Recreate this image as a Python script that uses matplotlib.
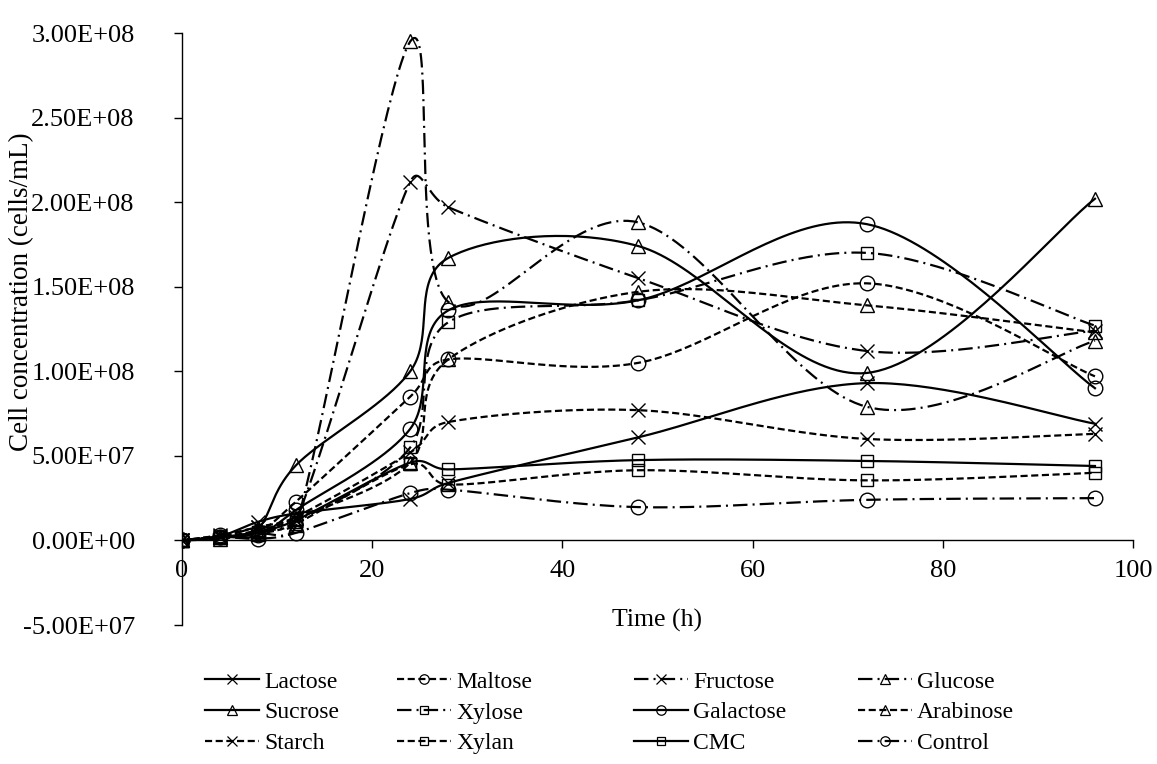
import numpy as np
import matplotlib
matplotlib.use("Agg")
import matplotlib.pyplot as plt
from matplotlib.lines import Line2D
from matplotlib.ticker import FuncFormatter, MultipleLocator

plt.rcParams['font.family'] = ['Liberation Serif', 'DejaVu Serif']
plt.rcParams['font.size'] = 16

# Sampling times (h)
time_h = [0, 4, 8, 12, 24, 28, 48, 72, 96]

# Cell concentration (cells/mL) per carbon source
lactose   = [0, 0.25e7, 1.1e7, 1.6e7, 2.45e7, 3.4e7, 6.1e7, 9.3e7, 6.9e7]
maltose   = [0, 0.3e7, 0.5e7, 2.3e7, 8.5e7, 1.07e8, 1.05e8, 1.52e8, 0.97e8]
fructose  = [0, 0.2e7, 0.8e7, 1.2e7, 2.12e8, 1.97e8, 1.55e8, 1.12e8, 1.24e8]
glucose   = [0, 0.1e7, 0.4e7, 0.9e7, 2.95e8, 1.41e8, 1.88e8, 0.79e8, 1.18e8]
sucrose   = [0, 0.2e7, 0.7e7, 4.45e7, 1.0e8, 1.67e8, 1.74e8, 0.99e8, 2.02e8]
xylose    = [0, 0.2e7, 0.5e7, 1.1e7, 5.5e7, 1.29e8, 1.42e8, 1.70e8, 1.27e8]
galactose = [0, 0.2e7, 0.3e7, 1.8e7, 6.6e7, 1.36e8, 1.42e8, 1.87e8, 0.90e8]
arabinose = [0, 0.2e7, 0.6e7, 1.3e7, 4.6e7, 1.07e8, 1.47e8, 1.39e8, 1.23e8]
starch    = [0, 0.3e7, 0.8e7, 1.4e7, 5.2e7, 7.0e7, 7.7e7, 6.0e7, 6.3e7]
xylan     = [0, 0.2e7, 0.4e7, 1.0e7, 4.5e7, 3.3e7, 4.15e7, 3.55e7, 4.0e7]
cmc       = [0, 0.2e7, 0.5e7, 1.2e7, 4.6e7, 4.2e7, 4.75e7, 4.7e7, 4.4e7]
control   = [0, 0.2e7, 0.1e7, 0.45e7, 2.8e7, 3.0e7, 1.97e7, 2.4e7, 2.5e7]

names = ["Lactose", "Maltose", "Fructose", "Glucose",
         "Sucrose", "Xylose", "Galactose", "Arabinose",
         "Starch", "Xylan", "CMC", "Control"]
values = [lactose, maltose, fructose, glucose,
          sucrose, xylose, galactose, arabinose,
          starch, xylan, cmc, control]

SOLID = "solid"
SHORT = "short"
DASHDOT = "dashdot"
styles = [SOLID, SHORT, DASHDOT, DASHDOT,
          SOLID, DASHDOT, SOLID, SHORT,
          SHORT, SHORT, SOLID, DASHDOT]
markers = ["x", "o", "x", "^",
           "^", "s", "o", "^",
           "x", "s", "s", "o"]

LW = 1.6
marker_size = {"x": 10, "o": 10.5, "^": 10.5, "s": 8}


def line_kwargs(style):
    if style == SOLID:
        return dict(linestyle="-")
    if style == SHORT:
        return dict(linestyle=(0, (3.2, 1.6)))
    return dict(linestyle=(0, (6.5, 2.3, 0.9, 2.3)))


def smooth_curve(ax, xs, ys, n=40, tension=1 / 6):
    """Piecewise cubic Bezier through the points, built in display space.

    Tangent arms follow neighbouring points (Catmull-Rom style) and are
    capped at half the length of the segment they belong to.
    """
    P = ax.transData.transform(np.column_stack([xs, ys]).astype(float))
    m = len(P)
    out = [P[0]]
    t = np.linspace(0, 1, n)[1:, None]
    for i in range(m - 1):
        p0 = P[i - 1] if i > 0 else P[i]
        p1, p2 = P[i], P[i + 1]
        p3 = P[i + 2] if i + 2 < m else P[i + 1]
        d12 = np.hypot(*(p2 - p1))
        a1 = (p2 - p0) * tension
        a2 = (p3 - p1) * tension
        for a in (a1, a2):
            la = np.hypot(*a)
            if la > d12 / 2 and la > 0:
                a *= (d12 / 2) / la
        c1 = p1 + a1
        c2 = p2 - a2
        seg = ((1 - t) ** 3) * p1 + 3 * ((1 - t) ** 2) * t * c1 \
            + 3 * (1 - t) * (t ** 2) * c2 + (t ** 3) * p2
        out.extend(seg)
    out = ax.transData.inverted().transform(np.array(out))
    return out[:, 0], out[:, 1]


W, H = 1157, 764
fig = plt.figure(figsize=(W / 100, H / 100), dpi=100)
ax = fig.add_axes([182 / W, 1 - 625 / H, (1133 - 182) / W, (625 - 33) / H])
ax.set_xlim(0, 100)
ax.set_ylim(-5e7, 3e8)

for name, vals, st, mk in zip(names, values, styles, markers):
    sx, sy = smooth_curve(ax, time_h, vals)
    ax.plot(sx, sy, color="black", lw=LW, **line_kwargs(st),
            dash_capstyle="butt", zorder=2)
    ax.plot(time_h, vals, linestyle="none", marker=mk, ms=marker_size[mk],
            mfc="none", mec="black", mew=1.0, zorder=3)

ax.xaxis.set_major_locator(MultipleLocator(20))
ax.yaxis.set_major_locator(MultipleLocator(5e7))
ax.yaxis.set_major_formatter(FuncFormatter(lambda v, p: f"{v:.2E}"))
ax.xaxis.set_major_formatter(FuncFormatter(lambda v, p: f"{v:g}"))

ax.spines["top"].set_visible(False)
ax.spines["right"].set_visible(False)
ax.spines["bottom"].set_position(("data", 0))
for sp in ("left", "bottom"):
    ax.spines[sp].set_linewidth(1.0)
ax.tick_params(axis="both", direction="out", length=6, width=1.0,
               labelsize=19)
ax.tick_params(axis="y", pad=28)
ax.tick_params(axis="x", pad=8)

ax.set_xlabel("Time (h)", fontsize=18.5)
ax.xaxis.set_label_coords(0.5, 0.027)
fig.text(22 / W, 1 - 292 / H, "Cell concentration (cells/mL)", rotation=90,
         ha="center", va="center", fontsize=19.5)

# Legend: four columns placed side by side
col_x = [205, 397, 634, 858]
for c in range(4):
    handles = []
    labels = []
    for r in range(3):
        k = r * 4 + c
        handles.append(Line2D([], [], color="black", lw=LW,
                              **line_kwargs(styles[k]),
                              marker=markers[k], ms=marker_size[markers[k]] * 0.65,
                              mfc="none", mec="black", mew=0.9))
        labels.append(names[k])
    fig.legend(handles, labels, loc="upper left",
               bbox_to_anchor=(col_x[c] / W, 1 - 671 / H),
               frameon=False, fontsize=17, handlelength=2.3,
               handletextpad=0.2, labelspacing=0.4,
               borderpad=0, borderaxespad=0)

fig.savefig("out.png", dpi=100)
